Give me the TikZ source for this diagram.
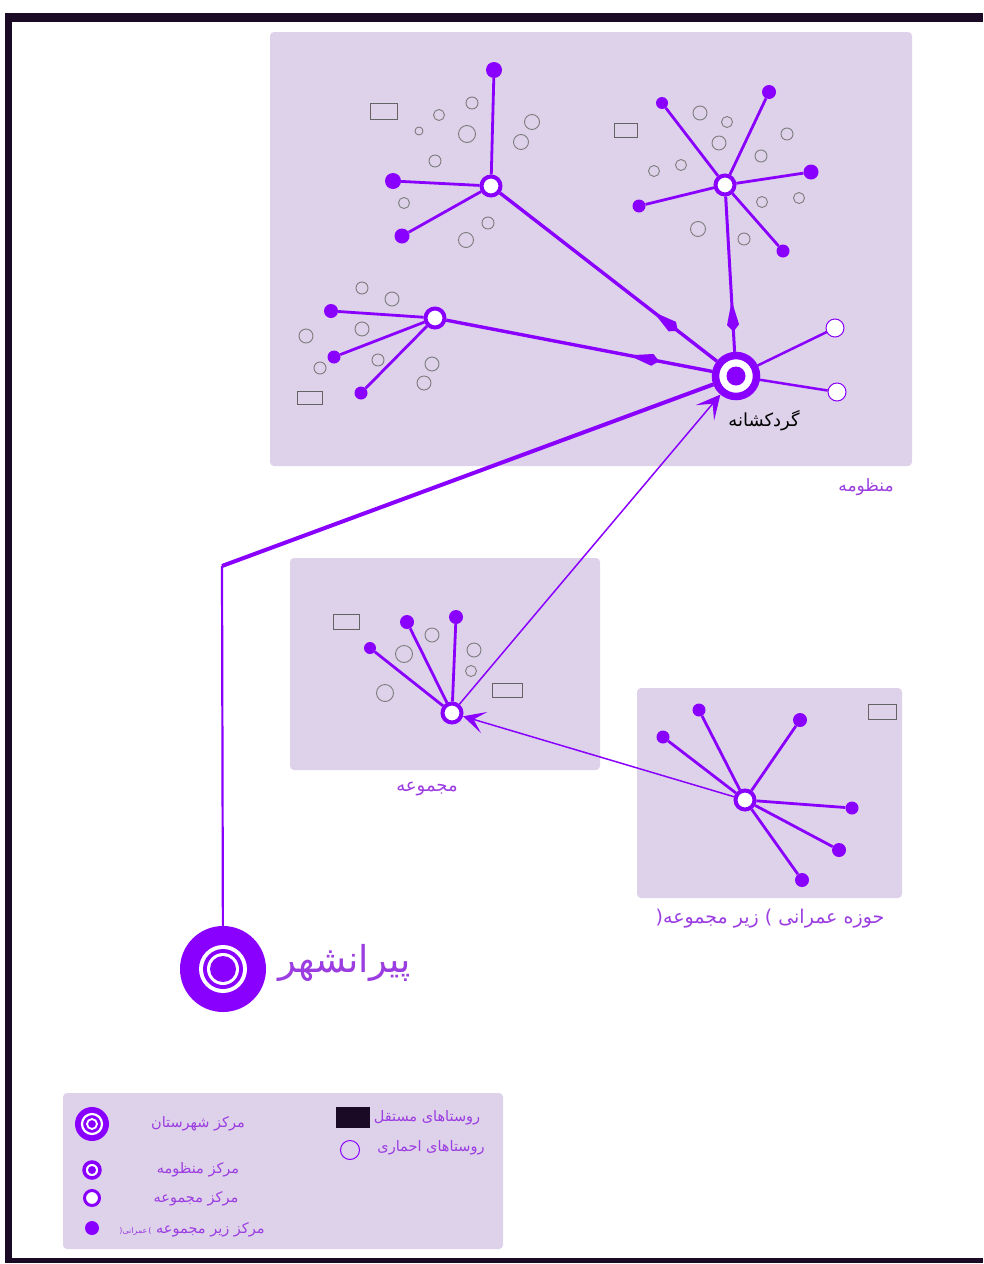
\documentclass[tikz,border=0pt]{standalone}
\usepackage{fontspec}
\TeXXeTstate=1
\newfontfamily\fa[Script=Arabic]{DejaVu Sans}
\usetikzlibrary{arrows.meta,decorations.markings}
\definecolor{vio}{HTML}{8A00FF}
\definecolor{panel}{HTML}{DED2EA}
\definecolor{txtc}{HTML}{9B3DE0}
\definecolor{frm}{HTML}{1A0A26}
\definecolor{vgray}{HTML}{7C7C7C}
\begin{document}
\begin{tikzpicture}[x=1pt,y=-1pt,
  vil/.style={circle, draw=vgray, line width=0.9pt, inner sep=0pt, minimum size=#1pt},
  sub/.style={circle, fill=vio, inner sep=0pt, minimum size=#1pt},
  cen/.style={circle, draw=vio, fill=white, line width=4pt, inner sep=0pt, minimum size=19pt},
  sat/.style={circle, draw=vio, fill=white, line width=1pt, inner sep=0pt, minimum size=18pt},
  ind/.style={rectangle, draw=vgray!80!black, line width=1pt, inner sep=0pt, minimum width=27pt, minimum height=16pt},
  spoke/.style={draw=vio, line width=2.8pt},
  link/.style={draw=vio, line width=3.4pt},
  thin/.style={draw=vio, line width=1.5pt},
  pnl/.style={fill=panel, rounded corners=4pt},
  midarr/.style={postaction={decorate,decoration={markings,mark=at position #1 with {\fill[vio] (-20pt,0pt) -- (4pt,-6pt) -- (11pt,0pt) -- (4pt,6pt) -- cycle;}}}},
  lab/.style={text=txtc, inner sep=0pt, font=\fa\fontsize{17}{20}\selectfont},
  leg/.style={text=txtc, inner sep=0pt, font=\fa\fontsize{14.5}{17}\selectfont}
]
\useasboundingbox (0,0) rectangle (983,1264);
\fill[white] (0,0) rectangle (983,1264);
% frame
\fill[frm] (5,13) rectangle (983,22);
\fill[frm] (5,13) rectangle (12,1263);
\fill[frm] (5,1258) rectangle (983,1263);
% panels
\fill[pnl] (270,32) rectangle (912,466);
\fill[pnl] (290,558) rectangle (600,770);
\fill[pnl] (637,688) rectangle (902,898);
\fill[pnl] (63,1093) rectangle (503,1249);

% ---------- cluster A (top left)
\node[cen] (A) at (491,186) {};
\node[sub=16] (a1) at (494,70) {};
\node[sub=16] (a2) at (393,181) {};
\node[sub=15] (a3) at (402,236) {};
\node[vil=12] (av1) at (472,103) {};
\node[vil=11] (av2) at (439,115) {};
\node[vil=8] (av3) at (419,131) {};
\node[vil=17] (av4) at (467,134) {};
\node[vil=12] (av5) at (435,161) {};
\node[vil=15] (av6) at (532,122) {};
\node[vil=15] (av7) at (521,142) {};
\node[vil=11] (av8) at (404,203) {};
\node[vil=12] (av9) at (488,223) {};
\node[vil=15] (av10) at (466,240) {};
\node[ind] (ar) at (384,111) {};

% ---------- cluster B (top right)
\node[cen] (B) at (725,185) {};
\node[sub=12] (b1) at (662,103) {};
\node[sub=14] (b2) at (769,92) {};
\node[sub=15] (b3) at (811,172) {};
\node[sub=13] (b4) at (639,206) {};
\node[sub=13] (b5) at (783,251) {};
\node[vil=14] (bv1) at (700,113) {};
\node[vil=11] (bv2) at (727,122) {};
\node[vil=14] (bv3) at (719,143) {};
\node[vil=12] (bv4) at (787,134) {};
\node[vil=12] (bv5) at (761,156) {};
\node[vil=11] (bv6) at (681,165) {};
\node[vil=11] (bv7) at (654,171) {};
\node[vil=11] (bv8) at (762,202) {};
\node[vil=11] (bv9) at (799,198) {};
\node[vil=15] (bv10) at (698,229) {};
\node[vil=12] (bv11) at (744,239) {};
\node[ind, minimum width=23pt, minimum height=14pt] (br) at (626,130) {};

% ---------- cluster C (left)
\node[cen] (C) at (435,318) {};
\node[sub=14] (c1) at (331,311) {};
\node[sub=13] (c2) at (334,357) {};
\node[sub=13] (c3) at (361,393) {};
\node[vil=12] (cv1) at (362,288) {};
\node[vil=14] (cv2) at (392,299) {};
\node[vil=14] (cv3) at (362,329) {};
\node[vil=14] (cv4) at (306,336) {};
\node[vil=12] (cv5) at (378,360) {};
\node[vil=12] (cv6) at (320,368) {};
\node[vil=14] (cv7) at (432,364) {};
\node[vil=14] (cv8) at (424,383) {};
\node[ind, minimum width=25pt, minimum height=13pt] (cr) at (310,398) {};

% ---------- Gerdkeshaneh
\node[circle, draw=vio, fill=white, line width=7.5pt, inner sep=0pt, minimum size=41pt] (G) at (736,376) {};
\node[sub=19] (Gd) at (G) {};
\node[sat] (g1) at (835,328) {};
\node[sat] (g2) at (837,392) {};
\node[inner sep=0pt, font=\fa\fontsize{18}{21}\selectfont] (lgerd) at (764,421) {گردکشانه};
\node[lab] (lmanz) at (866,487) {منظومه};

% ---------- Majmue
\node[cen] (M) at (452,713) {};
\node[sub=12] (m1) at (370,648) {};
\node[sub=14] (m2) at (407,622) {};
\node[sub=14] (m3) at (456,617) {};
\node[vil=14] (mv1) at (432,635) {};
\node[vil=17] (mv2) at (404,654) {};
\node[vil=14] (mv3) at (474,650) {};
\node[vil=11] (mv4) at (471,671) {};
\node[vil=17] (mv5) at (385,693) {};
\node[ind, minimum width=26pt, minimum height=15pt] (mr1) at (346,622) {};
\node[ind, minimum width=30pt, minimum height=14pt] (mr2) at (507,690) {};
\node[lab, font=\fa\fontsize{18}{21}\selectfont] (lmaj) at (427,789) {مجموعه};

% ---------- Hoze
\node[cen] (H) at (745,800) {};
\node[sub=13] (h1) at (663,737) {};
\node[sub=13] (h2) at (699,710) {};
\node[sub=14] (h3) at (800,720) {};
\node[sub=13] (h4) at (852,808) {};
\node[sub=14] (h5) at (839,850) {};
\node[sub=14] (h6) at (802,880) {};
\node[ind, minimum width=28pt, minimum height=15pt] (hr) at (882,712) {};
\node[lab, font=\fa\fontsize{19}{22}\selectfont] (lhoz) at (770,919) {\beginR حوزه عمرانی \hbox{)} زیر مجموعه\hbox{(}\endR};

% ---------- Piranshahr
\node[circle, fill=vio, inner sep=0pt, minimum size=86pt] (P) at (223,969) {};
\node[circle, fill=white, inner sep=0pt, minimum size=48pt] (P1) at (P) {};
\node[circle, fill=vio, inner sep=0pt, minimum size=40pt] (P2) at (P) {};
\node[circle, fill=white, inner sep=0pt, minimum size=32pt] (P3) at (P) {};
\node[circle, fill=vio, inner sep=0pt, minimum size=26pt] (P4) at (P) {};
\node[lab, font=\fa\fontsize{37}{43}\selectfont, anchor=west] (lpir) at (278,963) {پیرانشهر};
\coordinate (K) at (222,566);

% ---------- connectors
\foreach \t in {a1,a2,a3} \draw[spoke] (A) -- (\t);
\foreach \t in {b1,b2,b3,b4,b5} \draw[spoke] (B) -- (\t);
\foreach \t in {c1,c2,c3} \draw[spoke] (C) -- (\t);
\foreach \t in {m1,m2,m3} \draw[spoke] (M) -- (\t);
\foreach \t in {h1,h2,h3,h4,h5,h6} \draw[spoke] (H) -- (\t);
\draw[draw=vio, line width=2.5pt] (G) -- (g1);
\draw[draw=vio, line width=2.5pt] (G) -- (g2);
\draw[link, midarr=0.78] (A) -- (G);
\draw[link, midarr=0.76] (C) -- (G);
\draw[link, line width=3pt, midarr=0.80] (B) -- (G);
\draw[draw=vio, line width=2.2pt] (P) -- (K);
\draw[draw=vio, line width=4pt] (K) -- (G);
\draw[thin, -{Stealth[length=24pt,width=24pt,inset=12pt]}] (M) -- (G);
\draw[thin, -{Stealth[length=22pt,width=22pt,inset=11pt]}] (H) -- (M);

% ---------- legend
\node[circle, fill=vio, inner sep=0pt, minimum size=34pt] (L1) at (92,1124) {};
\node[circle, draw=white, line width=2.2pt, inner sep=0pt, minimum size=20pt] (L1a) at (L1) {};
\node[circle, draw=white, line width=1.8pt, inner sep=0pt, minimum size=10pt] (L1b) at (L1) {};
\node[leg] (t1) at (198,1124) {\beginR مرکز شهرستان\endR};
\node[circle, draw=vio, fill=white, line width=3.5pt, inner sep=0pt, minimum size=16pt] (L2) at (92,1170) {};
\node[sub=8] (L2d) at (L2) {};
\node[leg] (t2) at (198,1170) {\beginR مرکز منظومه\endR};
\node[circle, draw=vio, fill=white, line width=3pt, inner sep=0pt, minimum size=15pt] (L3) at (92,1198) {};
\node[leg] (t3) at (196,1199) {\beginR مرکز مجموعه\endR};
\node[sub=14] (L4) at (92,1228) {};
\node[leg] (t4) at (192,1230) {\beginR مرکز زیر مجموعه {\fontsize{8}{9}\selectfont\hbox{)}\kern1pt عمرانی\hbox{(}}\endR};
\node[rectangle, fill=frm, inner sep=0pt, minimum width=34pt, minimum height=21pt] (L5) at (353,1117) {};
\node[leg] (t5) at (427,1118) {\beginR روستاهای مستقل\endR};
\node[circle, draw=vio, line width=1pt, inner sep=0pt, minimum size=19pt] (L6) at (350,1150) {};
\node[leg] (t6) at (431,1148) {\beginR روستاهای احماری\endR};
\end{tikzpicture}
\end{document}
